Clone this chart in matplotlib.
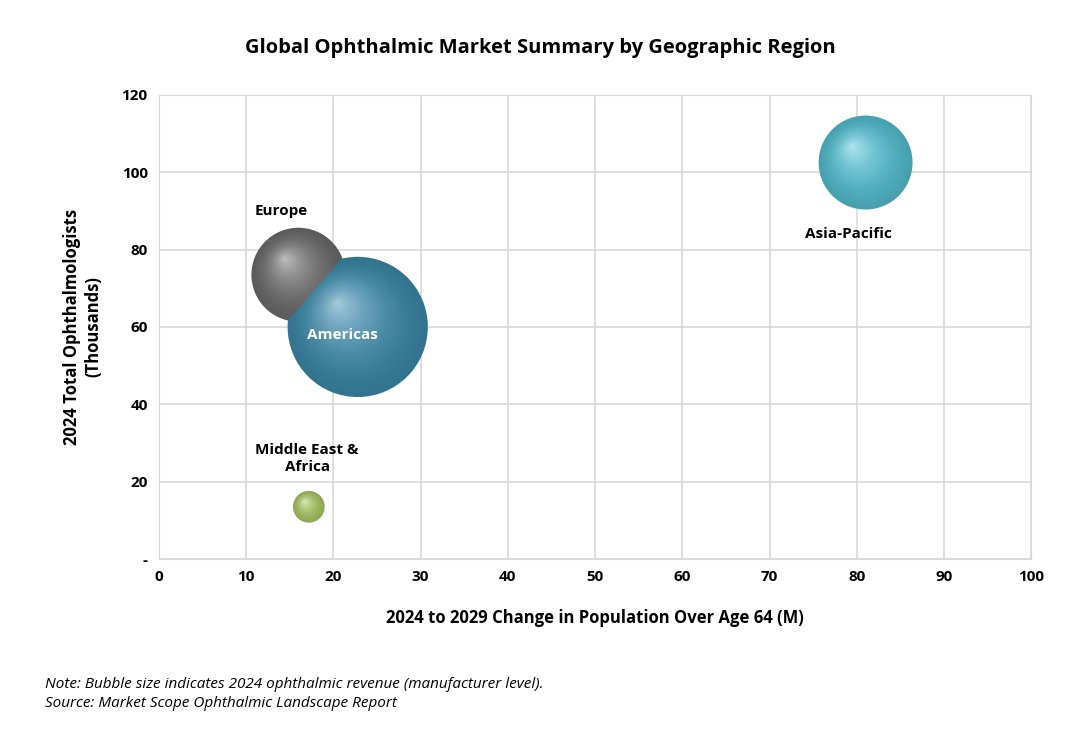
import matplotlib.pyplot as plt
import matplotlib.transforms as mtransforms
import numpy as np
from matplotlib.colors import to_rgb

regions = ['Asia-Pacific', 'Europe', 'Americas', 'Middle East &\nAfrica']
pop_change = [81.0, 16.0, 22.8, 17.2]          # M
ophthalmologists = [102.5, 73.5, 60.0, 13.5]   # thousands
revenue = [4.4, 4.4, 9.8, 0.5]                 # bubble size (relative revenue)
colors = ['#58c8da', '#727272', '#3f90b2', '#b0d068']
label_pos = [(79, 84), (14, 90), (21, 58), (17, 26)]
label_colors = ['black', 'black', 'white', 'black']

plt.rcParams['font.family'] = 'Open Sans'

fig = plt.figure(figsize=(10.8, 7.41), dpi=100)
ax = fig.add_axes([0.147, 0.2456, 0.808, 0.6264])

SCALE = 1040  # points^2 per revenue unit
for x, y, r, c in zip(pop_change, ophthalmologists, revenue, colors):
    base = np.array(to_rgb(c))
    s0 = r * SCALE
    rad = np.sqrt(s0) / 2
    n = 30
    for i in range(n):
        f = i / n
        s = s0 * (1 - f) ** 2
        col = base * (0.8 + 0.2 * f) + (1 - base) * (f ** 2) * 0.55
        col = np.clip(col, 0, 1)
        off = mtransforms.ScaledTranslation(-0.3 * rad * f / 72, 0.35 * rad * f / 72,
                                            fig.dpi_scale_trans)
        ax.scatter([x], [y], s=s, color=col, edgecolors='none', zorder=3 + i * 0.01,
                   transform=ax.transData + off)

for name, (lx, ly), lc in zip(regions, label_pos, label_colors):
    ax.text(lx, ly, name, ha='center', va='center', fontsize=11, fontweight='bold',
            color=lc, zorder=10, linespacing=1.3)

ax.set_xlim(0, 100)
ax.set_ylim(0, 120)
ax.set_xticks(range(0, 101, 10))
ax.set_yticks(range(0, 121, 20))
ax.set_yticklabels(['-'] + [str(v) for v in range(20, 121, 20)])
ax.tick_params(length=0, labelsize=11, pad=8)
for lab in ax.get_xticklabels() + ax.get_yticklabels():
    lab.set_fontweight('bold')
ax.grid(color='#d9d9d9', linewidth=1.2)
ax.set_axisbelow(True)
for sp in ax.spines.values():
    sp.set_color('#d9d9d9')

ax.set_xlabel('2024 to 2029 Change in Population Over Age 64 (M)', fontsize=12,
              fontweight='bold', labelpad=18)
ax.set_ylabel('2024 Total Ophthalmologists\n(Thousands)', fontsize=12,
              fontweight='bold', labelpad=14)
fig.text(0.5, 0.935, 'Global Ophthalmic Market Summary by Geographic Region',
         ha='center', va='center', fontsize=14.5, fontweight='bold')
fig.text(0.042, 0.063, 'Note: Bubble size indicates 2024 ophthalmic revenue (manufacturer level).\n'
         'Source: Market Scope Ophthalmic Landscape Report',
         ha='left', va='center', fontsize=11, style='italic', linespacing=1.35)

fig.savefig('out.png', dpi=100)
